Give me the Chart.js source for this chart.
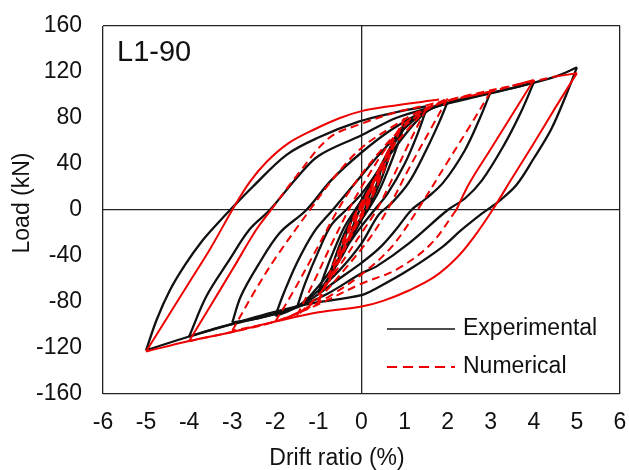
<!DOCTYPE html>
<html>
<head>
<meta charset="utf-8">
<script src="https://cdn.jsdelivr.net/npm/chart.js@4.4.1/dist/chart.umd.min.js"></script>
<style>
  html, body { margin: 0; padding: 0; background: #fff; }
  #wrap { width: 629px; height: 470px; }
</style>
</head>
<body>
<div id="wrap"><canvas id="chart" width="629" height="470"></canvas></div>
<script>
// axis ticks
const xTicks = [-6, -5, -4, -3, -2, -1, 0, 1, 2, 3, 4, 5, 6];
const yTicks = [-160, -120, -80, -40, 0, 40, 80, 120, 160];

// experimental loops, [drift %, load kN], one array per amplitude
const exp025 = [[0,0],[0.12,11],[0.25,22],[0.18,12],[0.1,3],[0,-6],[-0.12,-13],[-0.25,-22],[-0.18,-12],[-0.08,-3],[0.05,6]];
const exp05 = [[0.2,18],[0.35,30],[0.5,42],[0.4,28],[0.25,12],[0.1,-1],[-0.1,-14],[-0.3,-28],[-0.5,-40],[-0.4,-26],[-0.25,-11],[-0.1,1],[0.1,15]];
const exp075 = [[0.3,26],[0.5,42],[0.75,60],[0.62,44],[0.45,26],[0.25,9],[0.05,-5],[-0.2,-22],[-0.45,-40],[-0.75,-58],[-0.62,-42],[-0.45,-25],[-0.25,-9],[-0.05,5],[0.2,22]];
const exp10 = [[0.5,42],[0.75,60],[1,75],[0.85,58],[0.65,38],[0.4,16],[0.15,0],[-0.1,-14],[-0.4,-35],[-0.7,-55],[-1,-72],[-0.85,-55],[-0.65,-36],[-0.4,-15],[-0.15,0],[0.1,14],[0.4,35],[0.8,60]];
const exp15 = [[1.1,76],[1.5,87],[1.3,66],[1,40],[0.6,14],[0.3,0],[0,-14],[-0.4,-35],[-0.8,-57],[-1.2,-75],[-1.5,-85],[-1.3,-63],[-1,-36],[-0.7,-13],[-0.36,0],[0,14],[0.5,40],[1,65],[1.4,82]];
const exp20 = [[1.7,90],[2,94],[1.8,76],[1.5,52],[1.1,24],[0.7,6],[0.4,-4],[0,-29],[-0.5,-52],[-1,-70],[-1.4,-82],[-1.7,-88],[-2,-92],[-1.8,-72],[-1.5,-46],[-1.1,-19],[-0.67,0],[0,30],[0.5,52],[1,71],[1.5,86],[2,93],[2.5,98]];
const exp30 = [[3,103],[2.75,80],[2.4,52],[1.9,24],[1.5,10],[1.16,0],[0.8,-17],[0.42,-33],[0,-46],[-0.6,-62],[-1.2,-78],[-1.8,-88],[-2.4,-94],[-3,-98],[-2.8,-75],[-2.4,-48],[-1.9,-20],[-1.28,0],[-0.7,26],[0,50],[0.7,70],[1.4,85],[2,93],[3,102],[3.5,106]];
const exp40 = [[4,111],[3.7,85],[3.3,56],[2.8,26],[2.4,10],[2,0],[1.1,-29],[0.35,-49],[0,-55],[-0.8,-73],[-1.6,-86],[-2.5,-95],[-3.3,-102],[-4,-110],[-3.6,-75],[-3.06,-43],[-2.6,-17],[-2.13,0],[-1.5,28],[-1,47],[0,65],[0.8,80],[1.5,88],[2.5,97],[3.5,106],[4.5,116]];
const exp50 = [[5,124],[4.75,100],[4.4,70],[4,45],[3.6,22],[3.2,8],[2.8,-3],[2.3,-18],[1.88,-32],[1.1,-52],[0.35,-68],[0,-74],[-1.13,-81],[-2.06,-89],[-2.9,-98],[-4,-110],[-5,-122],[-4.75,-95],[-4.45,-70],[-4.1,-48],[-3.7,-27],[-3.3,-10],[-3.05,0],[-2.53,20],[-1.74,48],[-1,63],[-0.05,77],[0.8,85],[1.5,90]];

// numerical loops
const num025 = [[0,0],[0.25,22],[0.1,6],[0,-3],[-0.25,-22],[-0.1,-6],[0,3]];
const num05 = [[0.5,42],[0.3,20],[0.05,0],[-0.2,-16],[-0.5,-42],[-0.3,-20],[-0.05,0],[0.2,16]];
const num075 = [[0.75,62],[0.5,36],[0.2,9],[-0.1,-12],[-0.4,-35],[-0.75,-62],[-0.5,-36],[-0.2,-9],[0.1,12],[0.4,35]];
const num10 = [[1,80],[0.75,56],[0.4,24],[0.1,0],[-0.3,-25],[-0.65,-52],[-1,-80],[-0.75,-56],[-0.4,-24],[-0.1,0],[0.3,25],[0.65,52]];
const num15 = [[1.5,88],[1.1,58],[0.7,26],[0.35,0],[0,-20],[-0.5,-48],[-1,-74],[-1.5,-92],[-1.1,-62],[-0.7,-30],[-0.3,0],[0,20],[0.5,50],[1,75],[1.5,88]];
const num20 = [[2,97],[1.6,70],[1.1,36],[0.6,0],[0.2,-24],[-0.4,-52],[-1,-77],[-1.5,-90],[-2,-97],[-1.6,-72],[-1.1,-38],[-0.55,0],[-0.1,26],[0.5,54],[1,73],[1.5,87],[2,95],[2.5,99]];
const num30 = [[3,103],[2.5,72],[2,42],[1.3,0],[0.7,-32],[0,-56],[-0.7,-74],[-1.4,-88],[-2,-97],[-3,-105],[-2.5,-72],[-2,-42],[-1.2,0],[-0.6,30],[0,54],[0.7,72],[1.4,87],[2,95],[3,103],[3.5,108]];
const num40Unload = [[4,113],[3.5,83],[3,53],[2.5,23],[2.2,0]];
const num40Tail = [[1.6,-30],[0.8,-52],[0,-64],[-1,-82],[-2,-97],[-3,-106],[-4,-114]];
const num40Reload = [[-3.5,-83],[-3,-52],[-2.44,-17],[-2.1,0]];
const num40Rise = [[-1.5,30],[-0.74,63],[0,75],[0.8,85],[1.5,91],[2.5,100],[3.5,108],[4.5,116]];
const num50 = [[5,119],[4.5,89],[4,58],[3.5,28],[3.04,0],[2.6,-24],[2.2,-42],[1.7,-58],[1.1,-70],[0.5,-79],[0,-84],[-1,-89],[-2,-97],[-3,-106],[-4,-114],[-5,-123],[-4.5,-93],[-4,-63],[-3.5,-33],[-3,0],[-2.6,24],[-2.2,42],[-1.7,58],[-1.1,70],[-0.5,80],[0,86],[0.6,90],[1.8,96]];

const expPieces = [exp025, exp05, exp075, exp10, exp15, exp20, exp30, exp40, exp50];
const numPieces = [num025, num05, num075, num10, num15, num20, num30, num40Unload, num40Tail, num40Reload, num40Rise, num50];
const numSolid = [num40Unload, num40Reload, num50];

const RED = '#ee0000';
const FONT = '"Liberation Sans", Arial, sans-serif';

// cut a path wherever the drift changes direction, so peaks stay sharp
function splitRuns(path) {
  const runs = [];
  let cur = [path[0]];
  let dir = 0;
  for (let i = 1; i < path.length; i++) {
    const d = Math.sign(path[i][0] - path[i - 1][0]);
    if (dir !== 0 && d !== 0 && d !== dir) {
      runs.push(cur);
      cur = [path[i - 1]];
    }
    if (d !== 0) dir = d;
    cur.push(path[i]);
  }
  runs.push(cur);
  return runs;
}

const datasets = [];
let prev = null;
numPieces.forEach(piece => {
  const path = prev ? [prev].concat(piece) : piece;
  prev = piece[piece.length - 1];
  const solid = numSolid.includes(piece);
  splitRuns(path).forEach(run => {
    datasets.push({
      data: run.map(p => ({ x: p[0], y: p[1] })),
      borderColor: RED,
      borderWidth: 2,
      borderDash: solid ? [] : [8, 5],
      tension: 0.35,
      pointRadius: 0,
      order: 1
    });
  });
});

const expPath = [].concat(...expPieces);
splitRuns(expPath).forEach(run => {
  datasets.push({
    data: run.map(p => ({ x: p[0], y: p[1] })),
    borderColor: '#111',
    borderWidth: 2.3,
    tension: 0.35,
    pointRadius: 0,
    order: 2
  });
});

const textPlugin = {
  id: 'texts',
  afterDraw(chart) {
    const ctx = chart.ctx;
    ctx.save();
    ctx.fillStyle = '#111';
    ctx.textBaseline = 'middle';

    ctx.font = '29px ' + FONT;
    ctx.textAlign = 'left';
    ctx.fillText('L1-90', 117, 53);

    // legend
    ctx.font = '23px ' + FONT;
    ctx.lineWidth = 1.5;
    ctx.strokeStyle = '#111';
    ctx.beginPath();
    ctx.moveTo(387, 329);
    ctx.lineTo(455, 329);
    ctx.stroke();
    ctx.fillText('Experimental', 463, 329);

    ctx.strokeStyle = RED;
    ctx.lineWidth = 2;
    ctx.setLineDash([10, 6]);
    ctx.beginPath();
    ctx.moveTo(387, 367);
    ctx.lineTo(455, 367);
    ctx.stroke();
    ctx.setLineDash([]);
    ctx.fillText('Numerical', 463, 367);

    // axis titles
    ctx.textAlign = 'center';
    ctx.fillText('Drift ratio (%)', 337, 459);
    ctx.translate(23, 203);
    ctx.rotate(-Math.PI / 2);
    ctx.fillText('Load (kN)', 0, 0);
    ctx.restore();
  }
};

function edgeColor(value, edges) {
  return edges.includes(value) ? '#222' : 'rgba(0,0,0,0)';
}

new Chart(document.getElementById('chart'), {
  type: 'line',
  data: { datasets },
  options: {
    responsive: false,
    animation: false,
    events: [],
    layout: { padding: { top: 26, right: 9, left: 0, bottom: 0 } },
    plugins: { legend: { display: false }, tooltip: { enabled: false } },
    scales: {
      x: {
        type: 'linear',
        min: xTicks[0],
        max: xTicks[xTicks.length - 1],
        afterBuildTicks: scale => { scale.ticks = xTicks.map(v => ({ value: v })); },
        afterFit: scale => {
          scale.height = 76;
          scale.paddingLeft = 0;
          scale.paddingRight = 0;
        },
        ticks: { color: '#111', font: { family: FONT, size: 23 }, padding: 15, maxRotation: 0 },
        grid: { drawTicks: false, lineWidth: 1.3, color: c => edgeColor(c.tick.value, [-6, 0, 6]) },
        border: { display: false }
      },
      y: {
        type: 'linear',
        min: yTicks[0],
        max: yTicks[yTicks.length - 1],
        afterBuildTicks: scale => { scale.ticks = yTicks.map(v => ({ value: v })); },
        afterFit: scale => {
          scale.width = 103;
          scale.paddingTop = 0;
          scale.paddingBottom = 0;
        },
        ticks: { color: '#111', font: { family: FONT, size: 23 }, padding: 21 },
        grid: { drawTicks: false, lineWidth: 1.3, color: c => edgeColor(c.tick.value, [-160, 0, 160]) },
        border: { display: false }
      }
    }
  },
  plugins: [textPlugin]
});
</script>
</body>
</html>
